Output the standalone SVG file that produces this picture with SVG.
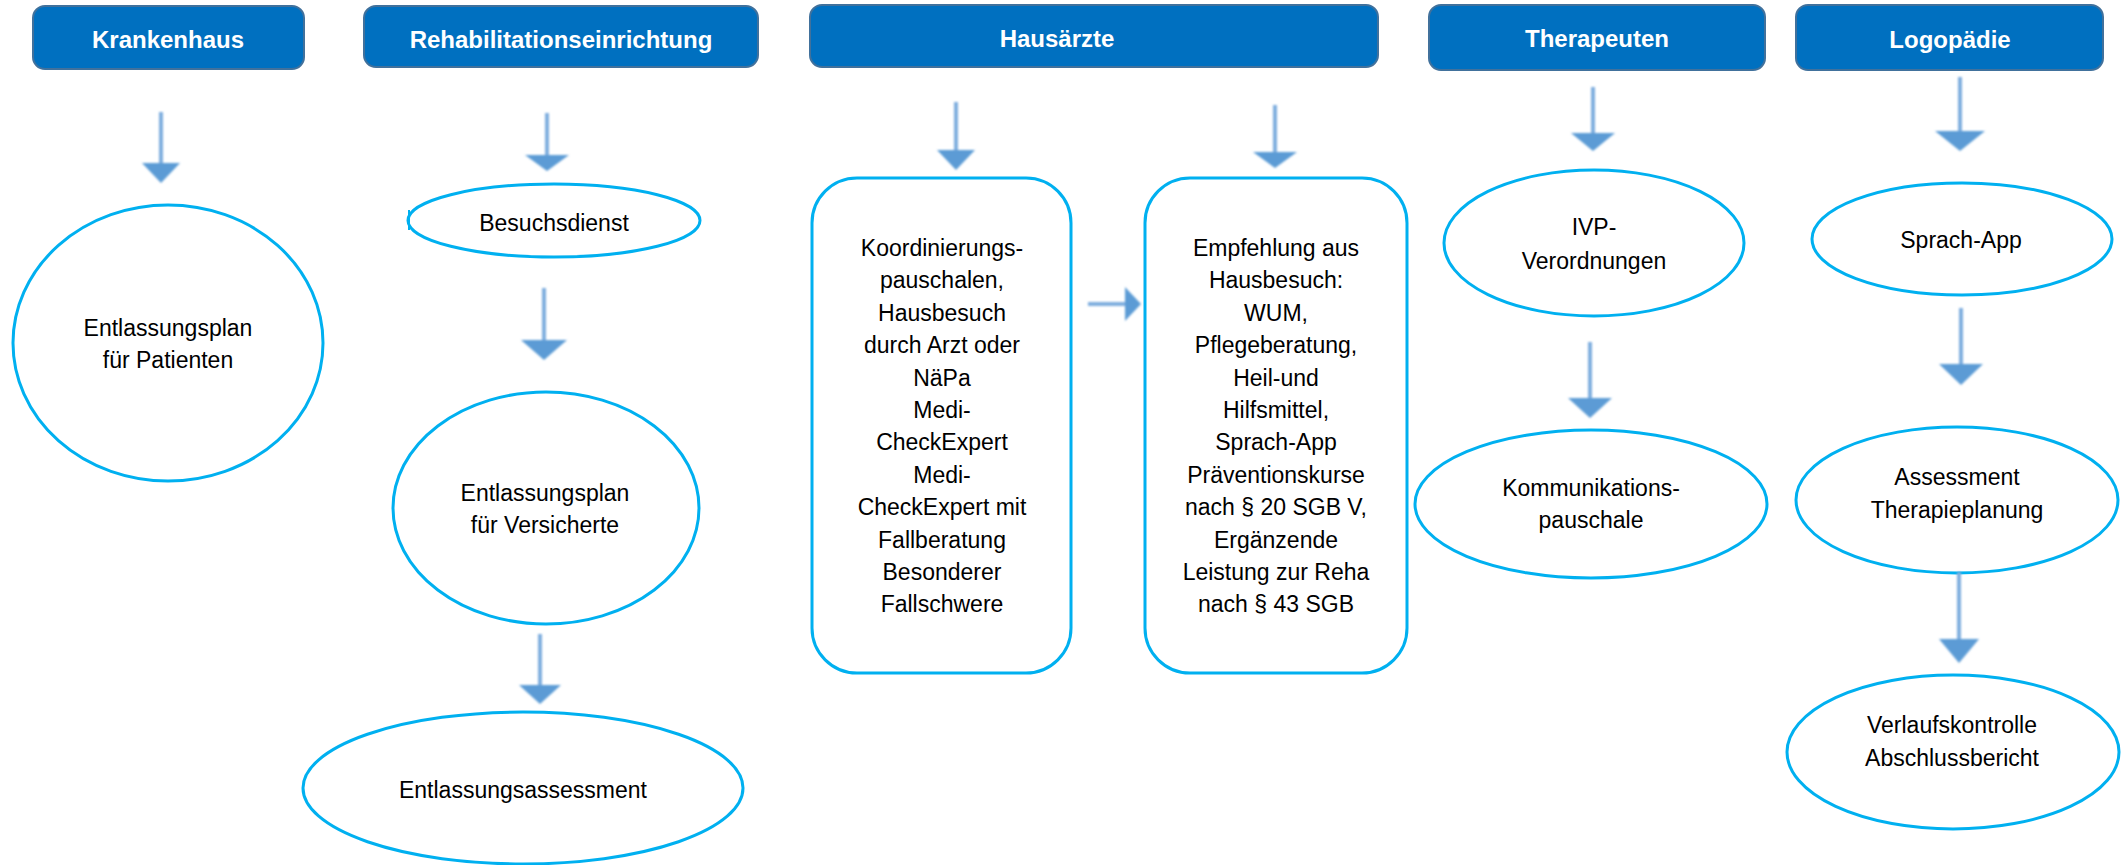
<svg xmlns="http://www.w3.org/2000/svg" width="2123" height="865" viewBox="0 0 2123 865">
  <defs>
    <filter id="soft" x="-20%" y="-20%" width="140%" height="140%">
      <feGaussianBlur stdDeviation="0.9"/>
    </filter>
    <style>
      .hdr rect { fill: #0070C0; stroke: #41719C; stroke-width: 2; }
      .hdr text { font-family: "Liberation Sans", Arial, sans-serif; font-weight: bold; font-size: 24px; fill: #FFFFFF; text-anchor: middle; }
      .node ellipse, .node rect { fill: #FFFFFF; stroke: #00B0F0; stroke-width: 3; }
      .node text { font-family: "Liberation Sans", Arial, sans-serif; font-size: 23px; fill: #000000; text-anchor: middle; }
      .shaft { stroke: #7FAEDF; stroke-width: 4; fill: none; }
      .head { fill: #5B9BD5; }
    </style>
  </defs>
  <rect width="2123" height="865" fill="#FFFFFF"/>

  <!-- column headers -->
  <g id="hdr-krankenhaus" class="hdr">
    <rect x="33" y="6" width="271" height="63" rx="12"/>
    <text x="168" y="48">Krankenhaus</text>
  </g>
  <g id="hdr-reha" class="hdr">
    <rect x="364" y="6" width="394" height="61" rx="12"/>
    <text x="561" y="48">Rehabilitationseinrichtung</text>
  </g>
  <g id="hdr-hausaerzte" class="hdr">
    <rect x="810" y="5" width="568" height="62" rx="12"/>
    <text x="1057" y="47">Hausärzte</text>
  </g>
  <g id="hdr-therapeuten" class="hdr">
    <rect x="1429" y="5" width="336" height="65" rx="12"/>
    <text x="1597" y="47">Therapeuten</text>
  </g>
  <g id="hdr-logopaedie" class="hdr">
    <rect x="1796" y="5" width="307" height="65" rx="12"/>
    <text x="1950" y="48">Logopädie</text>
  </g>

  <!-- Krankenhaus -->
  <g id="n-patienten" class="node">
    <ellipse cx="168" cy="343" rx="155" ry="138"/>
    <text x="168" y="336">Entlassungsplan</text>
    <text x="168" y="368">für Patienten</text>
  </g>

  <!-- Rehabilitationseinrichtung -->
  <g id="n-besuchsdienst" class="node">
    <ellipse cx="554" cy="220.5" rx="146" ry="36.5"/>
    <line x1="409" y1="210" x2="409" y2="230" stroke="#00B0F0" stroke-width="2"/>
    <text x="554" y="231">Besuchsdienst</text>
  </g>
  <g id="n-versicherte" class="node">
    <ellipse cx="546" cy="508" rx="153" ry="116"/>
    <text x="545" y="501">Entlassungsplan</text>
    <text x="545" y="533">für Versicherte</text>
  </g>
  <g id="n-entlassungsassessment" class="node">
    <ellipse cx="523" cy="788" rx="220" ry="76"/>
    <text x="523" y="798">Entlassungsassessment</text>
  </g>

  <!-- Hausärzte -->
  <g id="n-koordinierung" class="node">
    <rect x="812" y="178" width="259" height="495" rx="45" ry="45"/>
    <text x="942" y="256">Koordinierungs-</text>
    <text x="942" y="288.4">pauschalen,</text>
    <text x="942" y="320.8">Hausbesuch</text>
    <text x="942" y="353.2">durch Arzt oder</text>
    <text x="942" y="385.6">NäPa</text>
    <text x="942" y="418">Medi-</text>
    <text x="942" y="450.4">CheckExpert</text>
    <text x="942" y="482.8">Medi-</text>
    <text x="942" y="515.2">CheckExpert mit</text>
    <text x="942" y="547.6">Fallberatung</text>
    <text x="942" y="580">Besonderer</text>
    <text x="942" y="612.4">Fallschwere</text>
  </g>
  <g id="n-empfehlung" class="node">
    <rect x="1145" y="178" width="262" height="495" rx="45" ry="45"/>
    <text x="1276" y="256">Empfehlung aus</text>
    <text x="1276" y="288.4">Hausbesuch:</text>
    <text x="1276" y="320.8">WUM,</text>
    <text x="1276" y="353.2">Pflegeberatung,</text>
    <text x="1276" y="385.6">Heil-und</text>
    <text x="1276" y="418">Hilfsmittel,</text>
    <text x="1276" y="450.4">Sprach-App</text>
    <text x="1276" y="482.8">Präventionskurse</text>
    <text x="1276" y="515.2">nach § 20 SGB V,</text>
    <text x="1276" y="547.6">Ergänzende</text>
    <text x="1276" y="580">Leistung zur Reha</text>
    <text x="1276" y="612.4">nach § 43 SGB</text>
  </g>

  <!-- Therapeuten -->
  <g id="n-ivp" class="node">
    <ellipse cx="1594" cy="243" rx="150" ry="73"/>
    <text x="1594" y="235">IVP-</text>
    <text x="1594" y="269">Verordnungen</text>
  </g>
  <g id="n-kommunikation" class="node">
    <ellipse cx="1591" cy="504" rx="176" ry="74"/>
    <text x="1591" y="496">Kommunikations-</text>
    <text x="1591" y="528">pauschale</text>
  </g>

  <!-- Logopädie -->
  <g id="n-sprachapp" class="node">
    <ellipse cx="1962" cy="239" rx="150" ry="56"/>
    <text x="1961" y="248">Sprach-App</text>
  </g>
  <g id="n-assessment" class="node">
    <ellipse cx="1957" cy="500" rx="161" ry="73"/>
    <text x="1957" y="485">Assessment</text>
    <text x="1957" y="518">Therapieplanung</text>
  </g>
  <g id="n-verlauf" class="node">
    <ellipse cx="1953" cy="752" rx="166" ry="77"/>
    <text x="1952" y="733">Verlaufskontrolle</text>
    <text x="1952" y="766">Abschlussbericht</text>
  </g>

  <!-- connectors -->
  <g id="connectors" filter="url(#soft)">
    <line class="shaft" x1="161" y1="112" x2="161" y2="165"/>
    <polygon class="head" points="142,163 180,163 161,183"/>

    <line class="shaft" x1="547" y1="113" x2="547" y2="157"/>
    <polygon class="head" points="525,155 569,155 547,171"/>

    <line class="shaft" x1="544" y1="288" x2="544" y2="342"/>
    <polygon class="head" points="521,340 567,340 544,360"/>

    <line class="shaft" x1="540" y1="634" x2="540" y2="687"/>
    <polygon class="head" points="519,685 561,685 540,704"/>

    <line class="shaft" x1="956" y1="102" x2="956" y2="152"/>
    <polygon class="head" points="937,150 975,150 956,170"/>

    <line class="shaft" x1="1275" y1="105" x2="1275" y2="154"/>
    <polygon class="head" points="1253,152 1297,152 1275,168"/>

    <line class="shaft" x1="1088" y1="304" x2="1127" y2="304"/>
    <polygon class="head" points="1125,287 1125,321 1141,304"/>

    <line class="shaft" x1="1593" y1="87" x2="1593" y2="135"/>
    <polygon class="head" points="1571,133 1615,133 1593,151"/>

    <line class="shaft" x1="1590" y1="342" x2="1590" y2="400"/>
    <polygon class="head" points="1568,398 1612,398 1590,418"/>

    <line class="shaft" x1="1960" y1="77" x2="1960" y2="133"/>
    <polygon class="head" points="1935,131 1985,131 1960,151"/>

    <line class="shaft" x1="1961" y1="308" x2="1961" y2="366"/>
    <polygon class="head" points="1939,364 1983,364 1961,385"/>

    <line class="shaft" x1="1959" y1="572" x2="1959" y2="641"/>
    <polygon class="head" points="1939,639 1979,639 1959,663"/>
  </g>
</svg>
